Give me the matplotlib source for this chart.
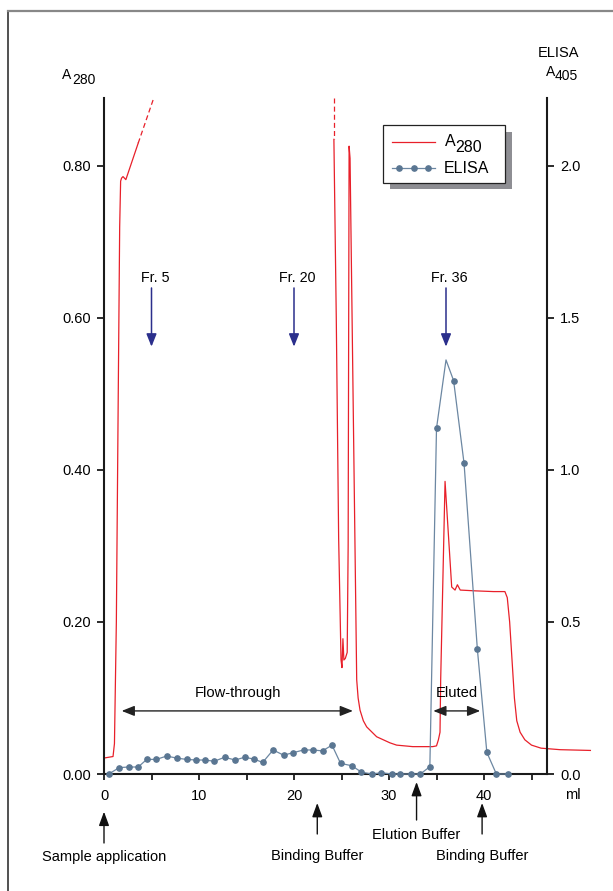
import numpy as np
import matplotlib.pyplot as plt
from matplotlib.lines import Line2D
from matplotlib.patches import Rectangle

plt.rcParams['font.family'] = ['Liberation Sans', 'DejaVu Sans']

W, H = 613, 891

# A280 trace (ml, absorbance); the two dashed pieces run off the top of the scale
a280_ml_a = [0.0, 0.95, 1.1, 1.3, 1.5, 1.65, 1.75, 1.85, 2.0, 2.3, 3.6]
a280_val_a = [0.021, 0.023, 0.04, 0.2, 0.5, 0.72, 0.78, 0.784, 0.786, 0.782, 0.83]
a280_dash_a_ml = [3.6, 5.2]
a280_dash_a_val = [0.83, 0.888]
a280_dash_b_ml = [24.2, 24.2]
a280_dash_b_val = [0.889, 0.835]
a280_ml_b = [24.2, 24.45, 24.7, 24.95, 25.05, 25.15, 25.25, 25.4, 25.6, 25.7, 25.8, 25.9,
             26.6, 26.75, 26.95, 27.3, 27.65, 28.7, 30.1, 30.8, 32.5, 34.6, 35.0, 35.2,
             35.37, 35.44, 35.9, 36.6, 36.95, 37.2, 37.5, 39.0, 41.0, 42.2, 42.45, 42.7,
             42.95, 43.2, 43.45, 43.8, 44.3, 45.0, 46.0, 48.0, 51.2]
a280_val_b = [0.835, 0.6, 0.31, 0.15, 0.14, 0.178, 0.15, 0.152, 0.16, 0.3, 0.826, 0.81,
              0.124, 0.1, 0.084, 0.07, 0.062, 0.049, 0.041, 0.038, 0.036, 0.036, 0.037, 0.045,
              0.055, 0.124, 0.385, 0.246, 0.242, 0.249, 0.242, 0.241, 0.240, 0.240, 0.232, 0.2,
              0.15, 0.1, 0.07, 0.055, 0.045, 0.038, 0.034, 0.032, 0.031]

# ELISA (A405) per fraction
elisa_ml = [0.5, 1.6, 2.6, 3.6, 4.5, 5.5, 6.6, 7.7, 8.7, 9.7, 10.6, 11.6, 12.7, 13.8,
            14.8, 15.8, 16.7, 17.8, 18.9, 19.9, 21.0, 22.0, 23.0, 24.0, 24.9, 26.1,
            27.1, 28.2, 29.2, 30.3, 31.2, 32.3, 33.3, 34.3, 35.0, 36.0, 36.8, 37.9,
            39.3, 40.3, 41.3, 42.5]
elisa_val = [0.0, 0.021, 0.023, 0.023, 0.048, 0.048, 0.059, 0.052, 0.048, 0.046, 0.046,
             0.042, 0.055, 0.046, 0.055, 0.049, 0.038, 0.079, 0.062, 0.070, 0.079, 0.079,
             0.076, 0.095, 0.035, 0.027, 0.006, 0.0, 0.004, 0.0, 0.0, 0.0, 0.0, 0.024,
             1.137, 1.362, 1.294, 1.022, 0.411, 0.071, 0.0, 0.0]
elisa_peak_idx = 35

fractions = [5, 20, 36]
buffer_ml = [0.0, 22.45, 32.9, 39.8]
buffer_names = ["Sample application", "Binding Buffer", "Elution Buffer", "Binding Buffer"]

x_ticks = np.arange(0, 46, 5)
left_ticks = [0.0, 0.2, 0.4, 0.6, 0.8]
right_ticks = [0.0, 0.5, 1.0, 1.5, 2.0]

RED = '#e8202a'
SLATE = '#6c87a2'
DOT = '#5a7692'
NAVY = '#2b2f8c'
INK = '#1a1a1a'


def fx(px):
    return px / W


def fy(py):
    return 1 - py / H


fig = plt.figure(figsize=(W / 100, H / 100), dpi=100)
ax = fig.add_axes([fx(104), fy(774), (547 - 104) / W, (774 - 98.3) / H])
ax2 = ax.twinx()

ymax = 0.889
ax.set_xlim(0, (547 - 104) / 9.5)
ax.set_ylim(0, ymax)
ax2.set_ylim(0, ymax * 2.5)

ax.plot(a280_ml_a, a280_val_a, color=RED, lw=0.9, clip_on=False)
ax.plot(a280_dash_a_ml, a280_dash_a_val, color=RED, lw=0.9, ls=(0, (4, 2.5)), clip_on=False)
ax.plot(a280_dash_b_ml, a280_dash_b_val, color=RED, lw=0.9, ls=(0, (4, 2.5)), clip_on=False)
ax.plot(a280_ml_b, a280_val_b, color=RED, lw=0.9, clip_on=False)

marks = [i for i in range(len(elisa_ml)) if i != elisa_peak_idx]
ax2.plot(elisa_ml, elisa_val, color=SLATE, lw=0.9, marker='o', ms=3.8,
         mfc=DOT, mec=DOT, markevery=marks, clip_on=False)

for sp in ['top', 'right']:
    ax.spines[sp].set_visible(False)
for sp in ['top', 'left', 'bottom']:
    ax2.spines[sp].set_visible(False)
for s in [ax.spines['left'], ax.spines['bottom'], ax2.spines['right']]:
    s.set_linewidth(1.5)
    s.set_color(INK)

ax.set_xticks(x_ticks)
ax.set_xticklabels([str(t) if t % 10 == 0 else '' for t in x_ticks])
ax.set_yticks(left_ticks)
ax.set_yticklabels(['%.2f' % t for t in left_ticks])
ax2.set_yticks(right_ticks)
ax2.set_yticklabels(['%.1f' % t for t in right_ticks])
ax.tick_params(axis='y', direction='out', length=5.3, width=1.3, color=INK,
               labelsize=10.5, pad=4.3)
ax.tick_params(axis='x', direction='out', length=4.5, width=1.3, color=INK,
               labelsize=10.5, pad=6)
ax2.tick_params(axis='y', direction='out', length=5.0, width=1.3, color=INK,
                labelsize=10.5, pad=4.3)

# fraction markers
for f in fractions:
    ax.annotate('', xy=(f, (774 - 346.7) / 760), xytext=(f, (774 - 288) / 760),
                arrowprops=dict(arrowstyle='-|>,head_length=0.55,head_width=0.22',
                                color=NAVY, lw=1.1, mutation_scale=14, shrinkA=0, shrinkB=0))
    ax.text(f + 0.35, (774 - 278) / 760, 'Fr. %d' % f, ha='center', va='center', fontsize=10.3)

# flow-through / eluted ranges
arr = dict(arrowstyle='<|-|>,head_length=0.55,head_width=0.22', color='#222222', lw=1.0,
           mutation_scale=14, shrinkA=0, shrinkB=0)
ax.annotate('', xy=(1.86, 0.083), xytext=(26.2, 0.083), arrowprops=arr)
ax.text(14.1, 0.106, 'Flow-through', ha='center', va='center', fontsize=10.6)
ax.annotate('', xy=(34.66, 0.083), xytext=(39.6, 0.083), arrowprops=arr)
ax.text(37.1, 0.106, 'Eluted', ha='center', va='center', fontsize=10.6)

# buffer changes below the axis
arrow_y = [(843, 811.7), (834, 803), (820, 782), (834, 803)]
text_y = [856.7, 856, 835, 856]
for m, name, (yb, yt), ty in zip(buffer_ml, buffer_names, arrow_y, text_y):
    ax.annotate('', xy=(m, fy(yt)), xytext=(m, fy(yb)),
                xycoords=('data', 'figure fraction'), textcoords=('data', 'figure fraction'),
                arrowprops=dict(arrowstyle='-|>,head_length=0.6,head_width=0.22',
                                color='#111111', lw=1.0, mutation_scale=14,
                                shrinkA=0, shrinkB=0))
    ax.annotate(name, xy=(m, fy(ty)), xycoords=('data', 'figure fraction'),
                ha='center', va='center', fontsize=10.5)

fig.text(fx(572.7), fy(795), 'ml', ha='center', va='center', fontsize=10.5)

# axis titles
fig.text(fx(62), fy(75), 'A', ha='left', va='center', fontsize=10)
fig.text(fx(72), fy(79.5), '280', ha='left', va='center', fontsize=10)
fig.text(fx(558.3), fy(53.3), 'ELISA', ha='center', va='center', fontsize=10.5)
fig.text(fx(545.5), fy(72), 'A', ha='left', va='center', fontsize=10)
fig.text(fx(554.5), fy(76.5), '405', ha='left', va='center', fontsize=10)

# legend box with drop shadow
fig.add_artist(Rectangle((fx(390), fy(189.3)), (512.3 - 390) / W, (189.3 - 131.7) / H,
                         transform=fig.transFigure, facecolor='#8e8e93', edgecolor='none',
                         zorder=5))
fig.add_artist(Rectangle((fx(383.3), fy(183)), (505 - 383.3) / W, (183 - 125) / H,
                         transform=fig.transFigure, facecolor='white', edgecolor='#222222',
                         lw=0.9, zorder=6))
fig.add_artist(Line2D([fx(391.7), fx(435)], [fy(142.3), fy(142.3)], color=RED, lw=0.9,
                      transform=fig.transFigure, zorder=7))
fig.add_artist(Line2D([fx(391.7), fx(435)], [fy(168.3), fy(168.3)], color=SLATE, lw=0.9,
                      transform=fig.transFigure, zorder=7))
fig.add_artist(Line2D([fx(399.3), fx(414), fx(427.7)], [fy(168.3)] * 3, ls='none',
                      marker='o', ms=3.8, mfc=DOT, mec=DOT,
                      transform=fig.transFigure, zorder=7))
fig.text(fx(444.5), fy(141.5), 'A', ha='left', va='center', fontsize=11.5, zorder=8)
fig.text(fx(455.5), fy(147.5), '280', ha='left', va='center', fontsize=11.5, zorder=8)
fig.text(fx(444), fy(168.3), 'ELISA', ha='left', va='center', fontsize=11.5, zorder=8)

# page frame
fig.add_artist(Line2D([fx(8), fx(8)], [fy(11), 0], color='#333333', lw=1.2))
fig.add_artist(Line2D([fx(8), 1], [fy(11), fy(11)], color='#888888', lw=1.6))

fig.savefig('out.png', dpi=100)
